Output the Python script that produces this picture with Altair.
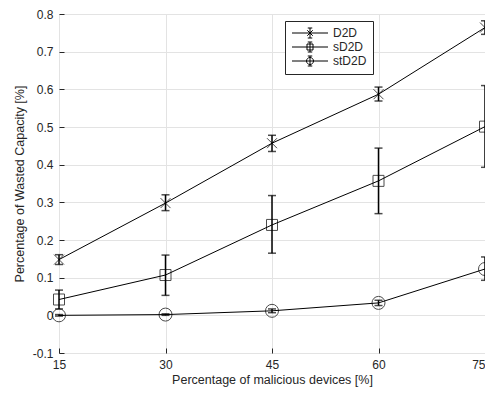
import altair as alt
import pandas as pd

x_vals = [15, 30, 45, 60, 75]
series_names = ["D2D", "sD2D", "stD2D"]

d2d = [0.148, 0.298, 0.457, 0.587, 0.764]
d2d_lo = [0.135, 0.278, 0.435, 0.569, 0.746]
d2d_hi = [0.161, 0.320, 0.478, 0.606, 0.782]

sd2d = [0.042, 0.107, 0.240, 0.357, 0.501]
sd2d_lo = [0.017, 0.053, 0.165, 0.270, 0.393]
sd2d_hi = [0.067, 0.160, 0.318, 0.444, 0.610]

std2d = [0.000, 0.002, 0.012, 0.033, 0.123]
std2d_lo = [-0.002, 0.000, 0.007, 0.026, 0.093]
std2d_hi = [0.002, 0.004, 0.017, 0.040, 0.155]

y_ticks = [-0.1, 0.0, 0.1, 0.2, 0.3, 0.4, 0.5, 0.6, 0.7, 0.8]

rows = []
for name, ys, los, his in [("D2D", d2d, d2d_lo, d2d_hi),
                           ("sD2D", sd2d, sd2d_lo, sd2d_hi),
                           ("stD2D", std2d, std2d_lo, std2d_hi)]:
    for x, y, lo, hi in zip(x_vals, ys, los, his):
        rows.append({"series": name, "x": x, "y": y, "lo": lo, "hi": hi})
df = pd.DataFrame(rows)

AX = "#262626"
FONT = "Liberation Sans"
xscale = alt.Scale(domain=[15, 75], nice=False, zero=False)
yscale = alt.Scale(domain=[-0.1, 0.8], nice=False, zero=False)

x_axis = alt.Axis(values=x_vals, title="Percentage of malicious devices [%]",
                  grid=True, gridColor="#e3e3e3", domain=False,
                  tickSize=5, offset=-5, tickColor=AX, labelPadding=6,
                  labelFontSize=12, titleFontSize=12.5, titlePadding=3,
                  labelOverlap=False, labelFlush=False,
                  labelAlign={"condition": {"test": "datum.value >= 75", "value": "right"},
                              "value": "center"},
                  labelColor=AX, titleColor=AX, labelFont=FONT,
                  titleFont=FONT, titleFontWeight="normal")
y_axis = alt.Axis(values=y_ticks,
                  labelExpr="toString(round(datum.value*10)/10)",
                  title="Percentage of Wasted Capacity [%]",
                  grid=True, gridColor="#e3e3e3", domain=False,
                  tickSize=5, offset=-5, tickColor=AX, labelPadding=6,
                  labelFontSize=12, titleFontSize=12.5, titlePadding=6,
                  labelOverlap=False, labelFlush=False,
                  labelColor=AX, titleColor=AX, labelFont=FONT,
                  titleFont=FONT, titleFontWeight="normal")

base = alt.Chart(df)
X = alt.X("x:Q", scale=xscale, axis=x_axis)


def Y(field):
    return alt.Y(field, scale=yscale, axis=y_axis)


lines = base.mark_line(color="black", strokeWidth=1).encode(
    x=X, y=Y("y:Q"), detail="series:N",
)

err = base.mark_rule(color="black", strokeWidth=1.5).encode(
    x=X, y=Y("lo:Q"), y2="hi:Q"
)
cap_lo = base.mark_tick(color="black", thickness=1.5, size=8, orient="horizontal").encode(
    x=X, y=Y("lo:Q")
)
cap_hi = base.mark_tick(color="black", thickness=1.5, size=8, orient="horizontal").encode(
    x=X, y=Y("hi:Q")
)

pts_x = base.transform_filter(alt.datum.series == "D2D").mark_point(
    shape="M-1,-1L1,1M-1,1L1,-1", size=100, filled=False, color="black", strokeWidth=1
).encode(x=X, y=Y("y:Q"))
pts_s = base.transform_filter(alt.datum.series == "sD2D").mark_point(
    shape="square", size=121, filled=False, color="black", strokeWidth=1
).encode(x=X, y=Y("y:Q"))
pts_c = base.transform_filter(alt.datum.series == "stD2D").mark_point(
    shape="circle", size=169, filled=False, color="black", strokeWidth=1
).encode(x=X, y=Y("y:Q"))

leg_paths = [
    "M-3.6,0L3.6,0M-0.55,-0.55L0.55,0.55M-0.55,0.55L0.55,-0.55M-0.45,-1L0.45,-1M0,-1L0,1M-0.45,1L0.45,1",
    "M-3.6,0L3.6,0M-0.6,-0.6L0.6,-0.6L0.6,0.6L-0.6,0.6ZM-0.45,-1L0.45,-1M0,-1L0,1M-0.45,1L0.45,1",
    "M-3.6,0L3.6,0M0.7,0A0.7,0.7,0,1,1,-0.7,0A0.7,0.7,0,1,1,0.7,0M-0.45,-1L0.45,-1M0,-1L0,1M-0.45,1L0.45,1",
]
legend_layer = base.mark_point(opacity=0, filled=False).encode(
    x=X, y=Y("y:Q"),
    shape=alt.Shape("series:N", scale=alt.Scale(domain=series_names, range=leg_paths),
                    legend=alt.Legend(title=None, orient="none", legendX=226, legendY=7,
                                      symbolSize=100, symbolOpacity=1,
                                      symbolStrokeColor="black", symbolFillColor="transparent",
                                      symbolStrokeWidth=1, symbolOffset=13, labelOffset=17,
                                      labelFontSize=12, labelFont=FONT,
                                      labelColor=AX, rowPadding=0, padding=6,
                                      strokeColor=AX, fillColor="white")),
)

chart = alt.layer(lines, err, cap_lo, cap_hi, pts_x, pts_s, pts_c, legend_layer).properties(
    width=426, height=339,
    autosize=alt.AutoSizeParams(type="none"),
    padding={"left": 51, "top": 6, "right": 0, "bottom": 36},
).configure_view(stroke=AX, strokeWidth=1).configure(background="white")

chart.save("out.html", embed_options={"renderer": "svg", "actions": False})
